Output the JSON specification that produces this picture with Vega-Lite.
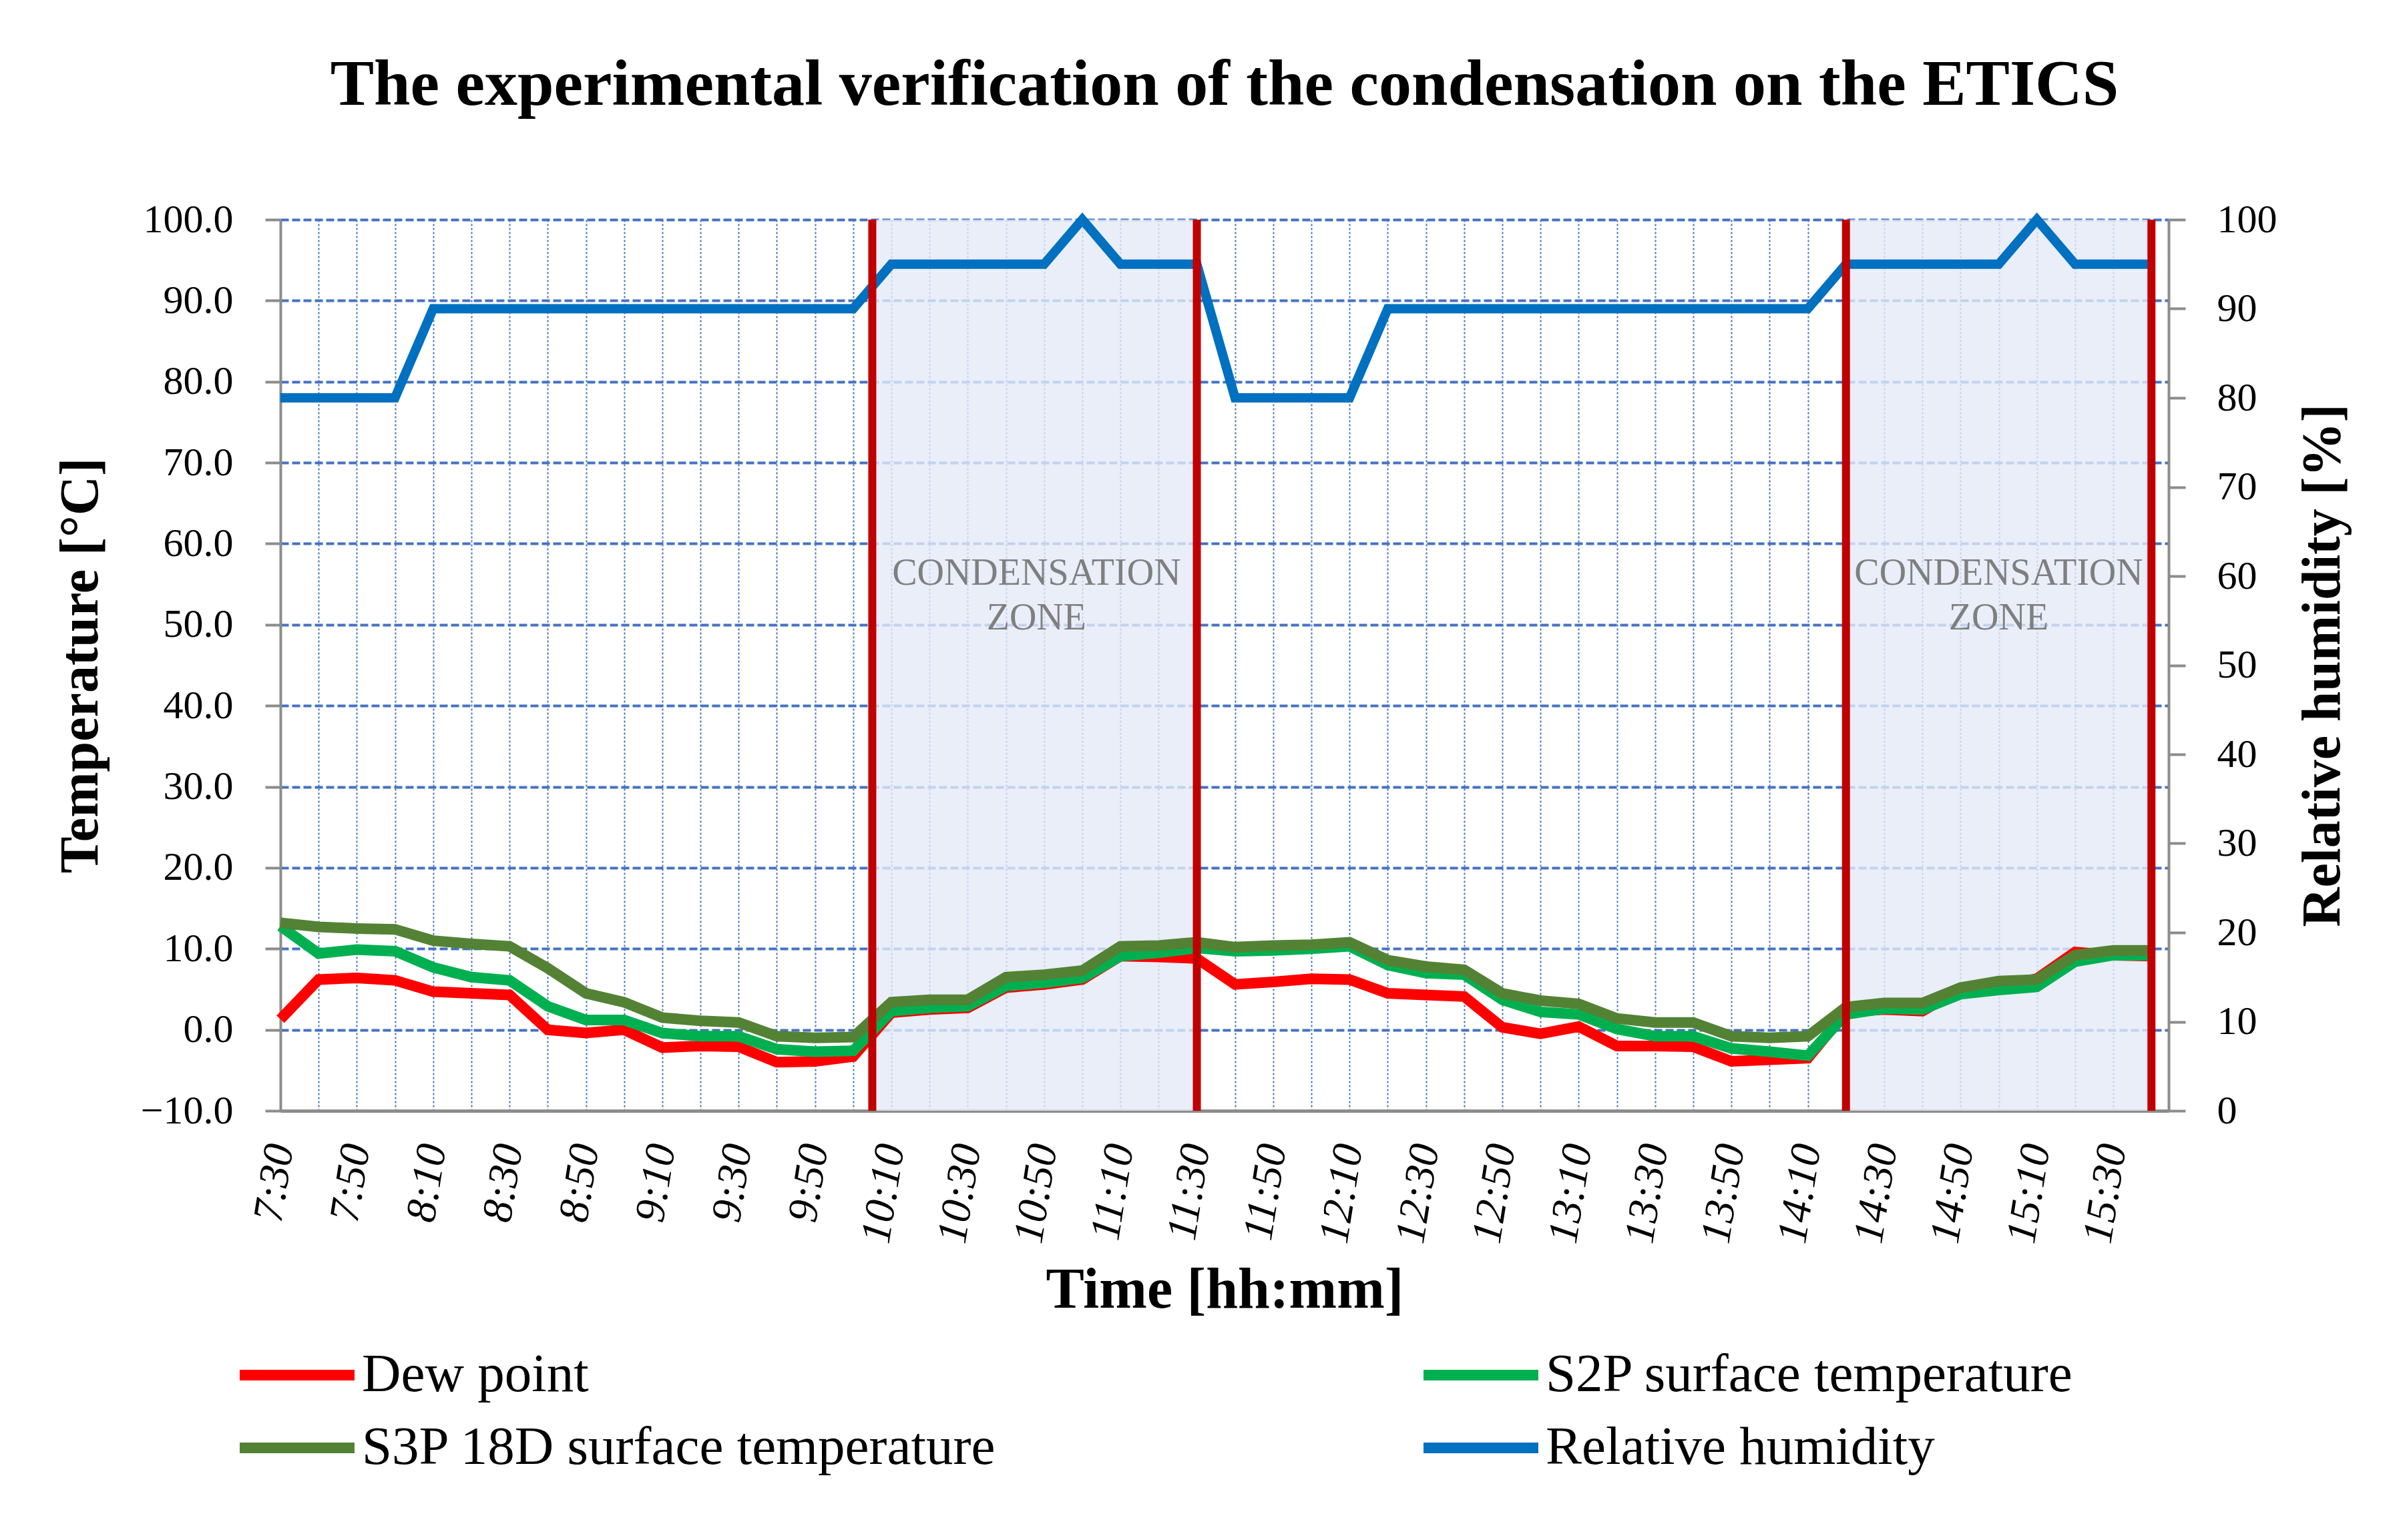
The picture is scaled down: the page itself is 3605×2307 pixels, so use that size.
{
  "$schema": "https://vega.github.io/schema/vega-lite/v6.json",
  "description": "Condensation on the ETICS: dew point, surface temperatures and relative humidity over one day.",
  "width": 2828,
  "height": 1335,
  "autosize": {"type": "none"},
  "padding": {"left": 420, "top": 329, "right": 357, "bottom": 643},
  "background": "white",
  "title": {
    "text": "The experimental verification of the condensation on the ETICS",
    "font": "Liberation Serif",
    "fontSize": 98,
    "fontWeight": "bold",
    "color": "black",
    "anchor": "middle",
    "frame": "group",
    "baseline": "alphabetic",
    "offset": 44
  },
  "datasets": {
    "readings": [
      {"time": "2000-01-01T07:30", "dew": 1.3, "s2p": 12.8, "s3p": 13.2, "rh": 80},
      {"time": "2000-01-01T07:40", "dew": 6.2, "s2p": 9.4, "s3p": 12.7, "rh": 80},
      {"time": "2000-01-01T07:50", "dew": 6.4, "s2p": 9.9, "s3p": 12.5, "rh": 80},
      {"time": "2000-01-01T08:00", "dew": 6.1, "s2p": 9.7, "s3p": 12.4, "rh": 80},
      {"time": "2000-01-01T08:10", "dew": 4.7, "s2p": 7.7, "s3p": 11.0, "rh": 90},
      {"time": "2000-01-01T08:20", "dew": 4.5, "s2p": 6.5, "s3p": 10.6, "rh": 90},
      {"time": "2000-01-01T08:30", "dew": 4.3, "s2p": 6.1, "s3p": 10.3, "rh": 90},
      {"time": "2000-01-01T08:40", "dew": 0.0, "s2p": 2.9, "s3p": 7.6, "rh": 90},
      {"time": "2000-01-01T08:50", "dew": -0.4, "s2p": 1.2, "s3p": 4.5, "rh": 90},
      {"time": "2000-01-01T09:00", "dew": 0.0, "s2p": 1.2, "s3p": 3.4, "rh": 90},
      {"time": "2000-01-01T09:10", "dew": -2.2, "s2p": -0.4, "s3p": 1.5, "rh": 90},
      {"time": "2000-01-01T09:20", "dew": -2.0, "s2p": -0.8, "s3p": 1.1, "rh": 90},
      {"time": "2000-01-01T09:30", "dew": -2.1, "s2p": -0.8, "s3p": 0.9, "rh": 90},
      {"time": "2000-01-01T09:40", "dew": -4.0, "s2p": -2.4, "s3p": -0.8, "rh": 90},
      {"time": "2000-01-01T09:50", "dew": -3.9, "s2p": -2.7, "s3p": -1.0, "rh": 90},
      {"time": "2000-01-01T10:00", "dew": -3.3, "s2p": -2.6, "s3p": -0.9, "rh": 90},
      {"time": "2000-01-01T10:10", "dew": 2.1, "s2p": 2.3, "s3p": 3.4, "rh": 95},
      {"time": "2000-01-01T10:20", "dew": 2.5, "s2p": 2.7, "s3p": 3.7, "rh": 95},
      {"time": "2000-01-01T10:30", "dew": 2.7, "s2p": 2.9, "s3p": 3.7, "rh": 95},
      {"time": "2000-01-01T10:40", "dew": 5.2, "s2p": 5.4, "s3p": 6.5, "rh": 95},
      {"time": "2000-01-01T10:50", "dew": 5.6, "s2p": 5.8, "s3p": 6.8, "rh": 95},
      {"time": "2000-01-01T11:00", "dew": 6.2, "s2p": 6.4, "s3p": 7.3, "rh": 100},
      {"time": "2000-01-01T11:10", "dew": 9.1, "s2p": 9.1, "s3p": 10.3, "rh": 95},
      {"time": "2000-01-01T11:20", "dew": 9.0, "s2p": 9.5, "s3p": 10.4, "rh": 95},
      {"time": "2000-01-01T11:30", "dew": 8.8, "s2p": 10.1, "s3p": 10.8, "rh": 95},
      {"time": "2000-01-01T11:40", "dew": 5.6, "s2p": 9.7, "s3p": 10.2, "rh": 80},
      {"time": "2000-01-01T11:50", "dew": 5.9, "s2p": 9.8, "s3p": 10.4, "rh": 80},
      {"time": "2000-01-01T12:00", "dew": 6.3, "s2p": 10.0, "s3p": 10.5, "rh": 80},
      {"time": "2000-01-01T12:10", "dew": 6.2, "s2p": 10.3, "s3p": 10.8, "rh": 80},
      {"time": "2000-01-01T12:20", "dew": 4.5, "s2p": 8.0, "s3p": 8.6, "rh": 90},
      {"time": "2000-01-01T12:30", "dew": 4.3, "s2p": 7.0, "s3p": 7.8, "rh": 90},
      {"time": "2000-01-01T12:40", "dew": 4.1, "s2p": 6.8, "s3p": 7.4, "rh": 90},
      {"time": "2000-01-01T12:50", "dew": 0.3, "s2p": 3.7, "s3p": 4.5, "rh": 90},
      {"time": "2000-01-01T13:00", "dew": -0.5, "s2p": 2.2, "s3p": 3.6, "rh": 90},
      {"time": "2000-01-01T13:10", "dew": 0.4, "s2p": 1.9, "s3p": 3.2, "rh": 90},
      {"time": "2000-01-01T13:20", "dew": -2.0, "s2p": 0.1, "s3p": 1.4, "rh": 90},
      {"time": "2000-01-01T13:30", "dew": -2.0, "s2p": -0.8, "s3p": 0.9, "rh": 90},
      {"time": "2000-01-01T13:40", "dew": -2.1, "s2p": -0.8, "s3p": 0.9, "rh": 90},
      {"time": "2000-01-01T13:50", "dew": -3.9, "s2p": -2.3, "s3p": -0.8, "rh": 90},
      {"time": "2000-01-01T14:00", "dew": -3.7, "s2p": -2.7, "s3p": -1.0, "rh": 90},
      {"time": "2000-01-01T14:10", "dew": -3.5, "s2p": -3.2, "s3p": -0.8, "rh": 90},
      {"time": "2000-01-01T14:20", "dew": 2.2, "s2p": 1.9, "s3p": 2.8, "rh": 95},
      {"time": "2000-01-01T14:30", "dew": 2.5, "s2p": 2.6, "s3p": 3.3, "rh": 95},
      {"time": "2000-01-01T14:40", "dew": 2.3, "s2p": 2.5, "s3p": 3.3, "rh": 95},
      {"time": "2000-01-01T14:50", "dew": 5.0, "s2p": 4.4, "s3p": 5.2, "rh": 95},
      {"time": "2000-01-01T15:00", "dew": 5.3, "s2p": 4.9, "s3p": 6.0, "rh": 95},
      {"time": "2000-01-01T15:10", "dew": 6.3, "s2p": 5.3, "s3p": 6.2, "rh": 100},
      {"time": "2000-01-01T15:20", "dew": 9.6, "s2p": 8.4, "s3p": 9.2, "rh": 95},
      {"time": "2000-01-01T15:30", "dew": 9.2, "s2p": 9.2, "s3p": 9.8, "rh": 95},
      {"time": "2000-01-01T15:40", "dew": 9.1, "s2p": 9.2, "s3p": 9.8, "rh": 95}
    ],
    "zones": [
      {"start": "2000-01-01T10:05", "end": "2000-01-01T11:30", "label_time": "2000-01-01T10:48", "label": "CONDENSATION ZONE"},
      {"start": "2000-01-01T14:20", "end": "2000-01-01T15:40", "label_time": "2000-01-01T15:00", "label": "CONDENSATION ZONE"}
    ]
  },
  "data": {"name": "readings"},
  "layer": [
    {
      "data": {"name": "zones"},
      "mark": {"type": "rect", "fill": "#e3eaf7", "opacity": 0.8},
      "encoding": {
        "x": {"field": "start", "type": "temporal", "axis": null},
        "x2": {"field": "end"}
      }
    },
    {
      "data": {"name": "zones"},
      "mark": {
        "type": "text",
        "font": "Liberation Serif",
        "fontSize": 56,
        "color": "#7f7f7f",
        "lineBreak": " ",
        "lineHeight": 67,
        "align": "center",
        "baseline": "middle"
      },
      "encoding": {
        "x": {"field": "label_time", "type": "temporal", "axis": null},
        "y": {"datum": 56.3, "type": "quantitative", "scale": {"domain": [-10, 100], "nice": false}, "axis": null},
        "text": {"field": "label"}
      }
    },
    {
      "mark": {"type": "line", "strokeWidth": 16},
      "encoding": {
        "x": {
          "field": "time",
          "type": "temporal",
          "scale": {
            "domain": [
              {"year": 2000, "month": 1, "date": 1, "hours": 7, "minutes": 30},
              {"year": 2000, "month": 1, "date": 1, "hours": 15, "minutes": 44, "seconds": 30}
            ]
          },
          "axis": {
            "orient": "bottom",
            "title": null,
            "labels": false,
            "ticks": false,
            "domainColor": "#8c8c8c",
            "domainWidth": 5,
            "grid": true,
            "gridColor": "#4472c4",
            "gridDash": [3, 3],
            "gridWidth": 2,
            "values": [
              {"year": 2000, "month": 1, "date": 1, "hours": 7, "minutes": 30},
              {"year": 2000, "month": 1, "date": 1, "hours": 7, "minutes": 40},
              {"year": 2000, "month": 1, "date": 1, "hours": 7, "minutes": 50},
              {"year": 2000, "month": 1, "date": 1, "hours": 8, "minutes": 0},
              {"year": 2000, "month": 1, "date": 1, "hours": 8, "minutes": 10},
              {"year": 2000, "month": 1, "date": 1, "hours": 8, "minutes": 20},
              {"year": 2000, "month": 1, "date": 1, "hours": 8, "minutes": 30},
              {"year": 2000, "month": 1, "date": 1, "hours": 8, "minutes": 40},
              {"year": 2000, "month": 1, "date": 1, "hours": 8, "minutes": 50},
              {"year": 2000, "month": 1, "date": 1, "hours": 9, "minutes": 0},
              {"year": 2000, "month": 1, "date": 1, "hours": 9, "minutes": 10},
              {"year": 2000, "month": 1, "date": 1, "hours": 9, "minutes": 20},
              {"year": 2000, "month": 1, "date": 1, "hours": 9, "minutes": 30},
              {"year": 2000, "month": 1, "date": 1, "hours": 9, "minutes": 40},
              {"year": 2000, "month": 1, "date": 1, "hours": 9, "minutes": 50},
              {"year": 2000, "month": 1, "date": 1, "hours": 10, "minutes": 0},
              {"year": 2000, "month": 1, "date": 1, "hours": 10, "minutes": 10},
              {"year": 2000, "month": 1, "date": 1, "hours": 10, "minutes": 20},
              {"year": 2000, "month": 1, "date": 1, "hours": 10, "minutes": 30},
              {"year": 2000, "month": 1, "date": 1, "hours": 10, "minutes": 40},
              {"year": 2000, "month": 1, "date": 1, "hours": 10, "minutes": 50},
              {"year": 2000, "month": 1, "date": 1, "hours": 11, "minutes": 0},
              {"year": 2000, "month": 1, "date": 1, "hours": 11, "minutes": 10},
              {"year": 2000, "month": 1, "date": 1, "hours": 11, "minutes": 20},
              {"year": 2000, "month": 1, "date": 1, "hours": 11, "minutes": 30},
              {"year": 2000, "month": 1, "date": 1, "hours": 11, "minutes": 40},
              {"year": 2000, "month": 1, "date": 1, "hours": 11, "minutes": 50},
              {"year": 2000, "month": 1, "date": 1, "hours": 12, "minutes": 0},
              {"year": 2000, "month": 1, "date": 1, "hours": 12, "minutes": 10},
              {"year": 2000, "month": 1, "date": 1, "hours": 12, "minutes": 20},
              {"year": 2000, "month": 1, "date": 1, "hours": 12, "minutes": 30},
              {"year": 2000, "month": 1, "date": 1, "hours": 12, "minutes": 40},
              {"year": 2000, "month": 1, "date": 1, "hours": 12, "minutes": 50},
              {"year": 2000, "month": 1, "date": 1, "hours": 13, "minutes": 0},
              {"year": 2000, "month": 1, "date": 1, "hours": 13, "minutes": 10},
              {"year": 2000, "month": 1, "date": 1, "hours": 13, "minutes": 20},
              {"year": 2000, "month": 1, "date": 1, "hours": 13, "minutes": 30},
              {"year": 2000, "month": 1, "date": 1, "hours": 13, "minutes": 40},
              {"year": 2000, "month": 1, "date": 1, "hours": 13, "minutes": 50},
              {"year": 2000, "month": 1, "date": 1, "hours": 14, "minutes": 0},
              {"year": 2000, "month": 1, "date": 1, "hours": 14, "minutes": 10},
              {"year": 2000, "month": 1, "date": 1, "hours": 14, "minutes": 20},
              {"year": 2000, "month": 1, "date": 1, "hours": 14, "minutes": 30},
              {"year": 2000, "month": 1, "date": 1, "hours": 14, "minutes": 40},
              {"year": 2000, "month": 1, "date": 1, "hours": 14, "minutes": 50},
              {"year": 2000, "month": 1, "date": 1, "hours": 15, "minutes": 0},
              {"year": 2000, "month": 1, "date": 1, "hours": 15, "minutes": 10},
              {"year": 2000, "month": 1, "date": 1, "hours": 15, "minutes": 20},
              {"year": 2000, "month": 1, "date": 1, "hours": 15, "minutes": 30},
              {"year": 2000, "month": 1, "date": 1, "hours": 15, "minutes": 40}
            ]
          }
        },
        "y": {
          "field": "dew",
          "type": "quantitative",
          "scale": {"domain": [-10, 100], "nice": false},
          "axis": {
            "orient": "left",
            "title": "Temperature [°C]",
            "titleFont": "Liberation Serif",
            "titleFontSize": 82,
            "titleFontWeight": "bold",
            "titleColor": "black",
            "titlePadding": 58,
            "values": [-10, 0, 10, 20, 30, 40, 50, 60, 70, 80, 90, 100],
            "format": ".1f",
            "labelFont": "Liberation Serif",
            "labelFontSize": 60,
            "labelColor": "black",
            "labelPadding": 48,
            "tickSize": 23,
            "tickWidth": 4,
            "tickColor": "#8c8c8c",
            "domainColor": "#8c8c8c",
            "domainWidth": 4,
            "grid": true,
            "gridColor": "#4472c4",
            "gridDash": [12, 5],
            "gridWidth": 4
          }
        },
        "color": {
          "datum": "Dew point",
          "type": "nominal",
          "scale": {
            "domain": ["Dew point", "S2P surface temperature", "S3P 18D surface temperature", "Relative humidity"],
            "range": ["#ff0000", "#00b050", "#548235", "#0070c0"]
          },
          "legend": {
            "title": null,
            "orient": "none",
            "direction": "horizontal",
            "legendX": -69,
            "legendY": 1691,
            "columns": 2,
            "columnPadding": 630,
            "rowPadding": 28,
            "symbolType": "stroke",
            "symbolSize": 29584,
            "symbolStrokeWidth": 16,
            "clipHeight": 80,
            "labelFont": "Liberation Serif",
            "labelFontSize": 81,
            "labelColor": "black",
            "labelOffset": 3,
            "labelLimit": 0
          }
        }
      }
    },
    {
      "mark": {"type": "line", "strokeWidth": 16},
      "encoding": {
        "x": {
          "field": "time",
          "type": "temporal",
          "axis": {
            "orient": "bottom",
            "title": "Time [hh:mm]",
            "titleFont": "Liberation Serif",
            "titleFontSize": 86,
            "titleFontWeight": "bold",
            "titleColor": "black",
            "titlePadding": 26,
            "format": "%-H:%M",
            "labelAngle": -81,
            "labelFont": "Liberation Serif",
            "labelFontSize": 64,
            "labelFontStyle": "italic",
            "labelColor": "black",
            "labelPadding": 50,
            "labelOverlap": false,
            "labelFlush": false,
            "ticks": false,
            "domain": false,
            "grid": false,
            "values": [
              {"year": 2000, "month": 1, "date": 1, "hours": 7, "minutes": 30},
              {"year": 2000, "month": 1, "date": 1, "hours": 7, "minutes": 50},
              {"year": 2000, "month": 1, "date": 1, "hours": 8, "minutes": 10},
              {"year": 2000, "month": 1, "date": 1, "hours": 8, "minutes": 30},
              {"year": 2000, "month": 1, "date": 1, "hours": 8, "minutes": 50},
              {"year": 2000, "month": 1, "date": 1, "hours": 9, "minutes": 10},
              {"year": 2000, "month": 1, "date": 1, "hours": 9, "minutes": 30},
              {"year": 2000, "month": 1, "date": 1, "hours": 9, "minutes": 50},
              {"year": 2000, "month": 1, "date": 1, "hours": 10, "minutes": 10},
              {"year": 2000, "month": 1, "date": 1, "hours": 10, "minutes": 30},
              {"year": 2000, "month": 1, "date": 1, "hours": 10, "minutes": 50},
              {"year": 2000, "month": 1, "date": 1, "hours": 11, "minutes": 10},
              {"year": 2000, "month": 1, "date": 1, "hours": 11, "minutes": 30},
              {"year": 2000, "month": 1, "date": 1, "hours": 11, "minutes": 50},
              {"year": 2000, "month": 1, "date": 1, "hours": 12, "minutes": 10},
              {"year": 2000, "month": 1, "date": 1, "hours": 12, "minutes": 30},
              {"year": 2000, "month": 1, "date": 1, "hours": 12, "minutes": 50},
              {"year": 2000, "month": 1, "date": 1, "hours": 13, "minutes": 10},
              {"year": 2000, "month": 1, "date": 1, "hours": 13, "minutes": 30},
              {"year": 2000, "month": 1, "date": 1, "hours": 13, "minutes": 50},
              {"year": 2000, "month": 1, "date": 1, "hours": 14, "minutes": 10},
              {"year": 2000, "month": 1, "date": 1, "hours": 14, "minutes": 30},
              {"year": 2000, "month": 1, "date": 1, "hours": 14, "minutes": 50},
              {"year": 2000, "month": 1, "date": 1, "hours": 15, "minutes": 10},
              {"year": 2000, "month": 1, "date": 1, "hours": 15, "minutes": 30}
            ]
          }
        },
        "y": {"field": "s2p", "type": "quantitative", "scale": {"domain": [-10, 100], "nice": false}, "axis": null},
        "color": {
          "datum": "S2P surface temperature",
          "type": "nominal",
          "scale": {
            "domain": ["Dew point", "S2P surface temperature", "S3P 18D surface temperature", "Relative humidity"],
            "range": ["#ff0000", "#00b050", "#548235", "#0070c0"]
          },
          "legend": null
        }
      }
    },
    {
      "mark": {"type": "line", "strokeWidth": 16},
      "encoding": {
        "x": {"field": "time", "type": "temporal", "axis": null},
        "y": {"field": "s3p", "type": "quantitative", "scale": {"domain": [-10, 100], "nice": false}, "axis": null},
        "color": {
          "datum": "S3P 18D surface temperature",
          "type": "nominal",
          "scale": {
            "domain": ["Dew point", "S2P surface temperature", "S3P 18D surface temperature", "Relative humidity"],
            "range": ["#ff0000", "#00b050", "#548235", "#0070c0"]
          },
          "legend": null
        }
      }
    },
    {
      "mark": {"type": "line", "strokeWidth": 14},
      "encoding": {
        "x": {"field": "time", "type": "temporal", "axis": null},
        "y": {
          "field": "rh",
          "type": "quantitative",
          "scale": {"domain": [0, 100], "nice": false},
          "axis": {
            "orient": "right",
            "title": "Relative humidity [%]",
            "titleFont": "Liberation Serif",
            "titleFontSize": 82,
            "titleFontWeight": "bold",
            "titleColor": "black",
            "titleAngle": -90,
            "titlePadding": 110,
            "values": [0, 10, 20, 30, 40, 50, 60, 70, 80, 90, 100],
            "format": "d",
            "labelFont": "Liberation Serif",
            "labelFontSize": 60,
            "labelColor": "black",
            "labelPadding": 47,
            "tickSize": 25,
            "tickWidth": 4,
            "tickColor": "#8c8c8c",
            "domainColor": "#8c8c8c",
            "domainWidth": 4,
            "grid": false
          }
        },
        "color": {
          "datum": "Relative humidity",
          "type": "nominal",
          "scale": {
            "domain": ["Dew point", "S2P surface temperature", "S3P 18D surface temperature", "Relative humidity"],
            "range": ["#ff0000", "#00b050", "#548235", "#0070c0"]
          },
          "legend": null
        }
      }
    },
    {
      "data": {"name": "zones"},
      "mark": {"type": "rule", "color": "#c00000", "strokeWidth": 12},
      "encoding": {
        "x": {"field": "start", "type": "temporal", "axis": null}
      }
    },
    {
      "data": {"name": "zones"},
      "mark": {"type": "rule", "color": "#c00000", "strokeWidth": 12},
      "encoding": {
        "x": {"field": "end", "type": "temporal", "axis": null}
      }
    }
  ],
  "resolve": {"scale": {"y": "independent"}, "axis": {"x": "independent", "y": "independent"}},
  "config": {
    "view": {"stroke": null},
    "font": "Liberation Serif"
  }
}
